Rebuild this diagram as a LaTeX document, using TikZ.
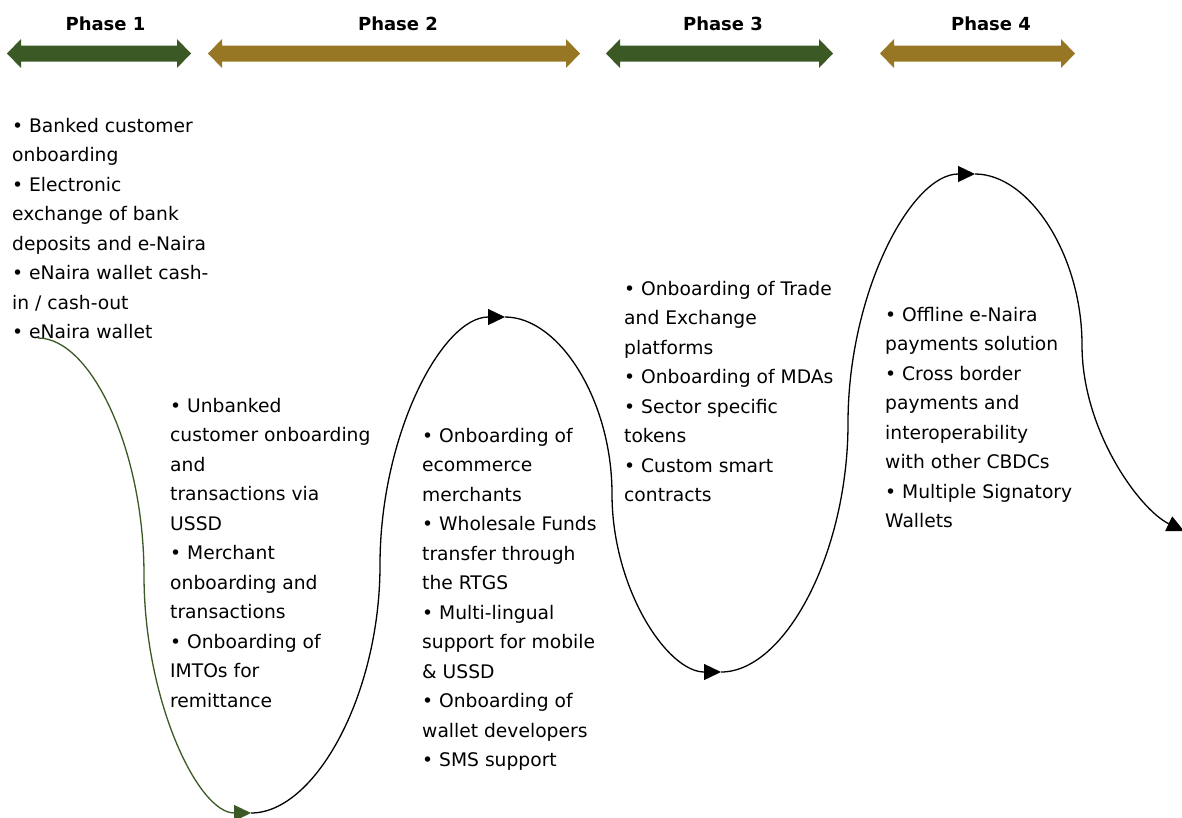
\documentclass[tikz,border=0pt]{standalone}
\usepackage{fontspec}
\setmainfont{DejaVu Sans}
\usetikzlibrary{arrows.meta}
\definecolor{pgreen}{RGB}{59,89,37}
\definecolor{pgold}{RGB}{151,119,35}
\newcommand\blocklines[1]{\vtop{\baselineskip=29.5pt\lineskiplimit=-20pt\halign{##\hfil\cr#1\crcr}}}
\newcommand\dblarrow[3]{\fill[#3] (#1,53.5) -- (#1+14,39) -- (#1+14,45.5) -- (#2-14,45.5) -- (#2-14,39) -- (#2,53.5) -- (#2-14,68) -- (#2-14,61.5) -- (#1+14,61.5) -- (#1+14,68) -- cycle;}
\begin{document}
\begin{tikzpicture}[x=1pt,y=-1pt,
  txt/.style={anchor=base west, inner sep=0pt, font=\fontsize{18.7}{29.5}\selectfont},
  phase/.style={anchor=base, inner sep=0pt, font=\fontsize{18}{22}\selectfont\bfseries},
  flow/.style={line width=1.3pt, -{Triangle[length=17pt,width=16pt]}}]
\useasboundingbox (0,0) rectangle (1182,817);
% phase arrows
\dblarrow{7}{191}{pgreen}
\dblarrow{208}{580}{pgold}
\dblarrow{606}{833}{pgreen}
\dblarrow{880}{1075}{pgold}
\node[phase] (p1) at (105.5,30) {Phase 1};
\node[phase] (p2) at (398,30) {Phase 2};
\node[phase] (p3) at (723,30) {Phase 3};
\node[phase] (p4) at (991,30) {Phase 4};
% text blocks
\node[txt] (b1) at (12,132) {\blocklines{• Banked customer\cr
onboarding\cr
• Electronic\cr
exchange of bank\cr
deposits and e-Naira\cr
• eNaira wallet cash-\cr
in / cash-out\cr
• eNaira wallet}};
\node[txt] (b2) at (170,412) {\blocklines{• Unbanked\cr
customer onboarding\cr
and\cr
transactions via\cr
USSD\cr
• Merchant\cr
onboarding and\cr
transactions\cr
• Onboarding of\cr
IMTOs for\cr
remittance}};
\node[txt] (b3) at (422,442) {\blocklines{• Onboarding of\cr
ecommerce\cr
merchants\cr
• Wholesale Funds\cr
transfer through\cr
the RTGS\cr
• Multi-lingual\cr
support for mobile\cr
\& USSD\cr
• Onboarding of\cr
wallet developers\cr
• SMS support}};
\node[txt] (b4) at (624,295) {\blocklines{• Onboarding of Trade\cr
and Exchange\cr
platforms\cr
• Onboarding of MDAs\cr
• Sector specific\cr
tokens\cr
• Custom smart\cr
contracts}};
\node[txt] (b5) at (885,321) {\blocklines{• Offline e-Naira\cr
payments solution\cr
• Cross border\cr
payments and\cr
interoperability\cr
with other CBDCs\cr
• Multiple Signatory\cr
Wallets}};
% wave
\coordinate (E0) at (38,338);
\coordinate (E1) at (251,813);
\coordinate (E2) at (505,317);
\coordinate (E3) at (721,672);
\coordinate (E4) at (975,174);
\coordinate (E5) at (1184,531);
\coordinate (M1) at (144,575);
\coordinate (M2) at (380,565);
\coordinate (M3) at (612,494);
\coordinate (M4) at (848,423);
\coordinate (M5) at (1082,345);
\draw[flow, pgreen] (E0) .. controls (91,338) and (144,450) .. (M1) .. controls (144,700) and (198,813) .. (E1);
\draw[flow, black] (E1) .. controls (315,813) and (380,695) .. (M2) .. controls (380,435) and (442,317) .. (E2);
\draw[flow, black] (E2) .. controls (559,317) and (612,400) .. (M3) .. controls (612,588) and (667,672) .. (E3);
\draw[flow, black] (E3) .. controls (785,672) and (848,553) .. (M4) .. controls (848,293) and (911,174) .. (E4);
\draw[flow, black] (E4) .. controls (1029,174) and (1082,255) .. (M5) .. controls (1082,431) and (1140,510) .. (E5);
\end{tikzpicture}
\end{document}
